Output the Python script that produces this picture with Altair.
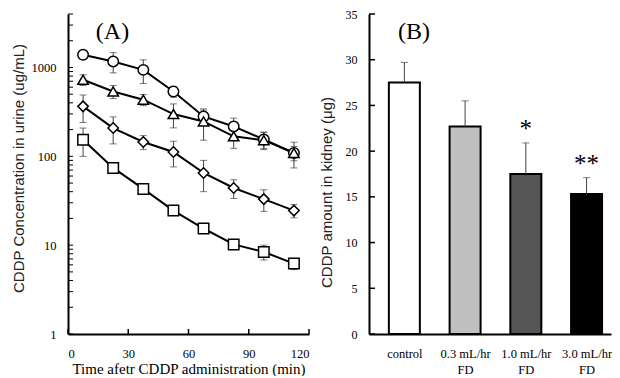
import json
import altair as alt
import pandas as pd

SERIF = "Liberation Serif"
SANS = "Liberation Sans"

# ---------------- Panel A data ----------------
times = [7.5, 22.5, 37.5, 52.5, 67.5, 82.5, 97.5, 112.5]
series_names = ["control", "0.3 mL/hr FD", "1.0 mL/hr FD", "3.0 mL/hr FD"]
conc_control = [1390, 1170, 940, 537, 281, 217, 155, 109]
sd_control = [150, 300, 280, 75, 50, 52, 33, 35]
conc_03 = [727, 537, 434, 299, 247, 168, 152, 109]
sd_03 = [100, 90, 62, 90, 95, 45, 33, 20]
conc_10 = [365, 208, 145, 112, 65, 44, 33, 24.5]
sd_10 = [125, 70, 26, 36, 25, 10.5, 9, 4.2]
conc_30 = [154, 74, 43, 24.5, 15.4, 10.2, 8.4, 6.2]
sd_30 = [54, 3, 2, 2.7, 0.8, 0.5, 1.6, 0.9]
shapes = ["circle", "triangle-up", "diamond", "square"]

x_tick_vals = [0, 30, 60, 90, 120]
y_label_vals = [1, 10, 100, 1000]
y_minor_mult = [1, 2, 3, 4, 5, 6, 7, 8, 9]
y_tick_vals = [m * d for d in [1, 10, 100] for m in y_minor_mult] + [1000, 2000, 3000, 4000]

# ---------------- Panel B data ----------------
groups = ["control", "0.3 mL/hr\nFD", "1.0 mL/hr\nFD", "3.0 mL/hr\nFD"]
kidney = [27.5, 22.7, 17.5, 15.3]
kidney_sd = [2.2, 2.8, 3.4, 1.8]
signif = ["", "", "*", "**"]
bar_colors = ["#ffffff", "#c0c0c0", "#555555", "#000000"]
yb_tick_vals = [0, 5, 10, 15, 20, 25, 30, 35]

rows = []
for name, cs, ss in zip(series_names, [conc_control, conc_03, conc_10, conc_30],
                        [sd_control, sd_03, sd_10, sd_30]):
    for t, c, s in zip(times, cs, ss):
        rows.append({"series": name, "time": t, "conc": c, "lo": c - s, "hi": c + s})
dfA = pd.DataFrame(rows)

dfB = pd.DataFrame({
    "group": groups,
    "pos": [i + 0.5 for i in range(len(groups))],
    "amount": kidney,
    "hi": [a + s for a, s in zip(kidney, kidney_sd)],
    "sig": signif,
})

W_A, H = 241, 320
W_B = 242

# ---------------- Panel A ----------------
xscaleA = alt.Scale(domain=[0, 120], nice=False, zero=False)
yscaleA = alt.Scale(type="log", domain=[1, 4000], nice=False)

xaxisA = alt.Axis(values=x_tick_vals, ticks=False, grid=False, domainColor="black",
                  domainWidth=2, labelFont=SERIF, labelFontSize=12.5, labelColor="black",
                  labelPadding=23, labelBaseline="alphabetic",
                  title="Time afetr CDDP administration (min)", titleFont=SERIF,
                  titleFontSize=15, titleFontWeight="normal", titleColor="black",
                  titleY=39, titleBaseline="alphabetic")
yaxisA = alt.Axis(values=y_label_vals, format="d", ticks=False, grid=False,
                  domainColor="black", domainWidth=2, labelFont=SERIF, labelFontSize=12.5,
                  labelColor="black", labelPadding=12,
                  title="CDDP Concentration in urine (ug/mL)", titleFont=SANS,
                  titleFontSize=15, titleFontWeight="normal", titleColor="#222222",
                  titleX=-50, titleY=154, titleBaseline="middle")

X_A = alt.X("time:Q", scale=xscaleA, axis=xaxisA)
baseA = alt.Chart(dfA)

errA = baseA.mark_rule(color="#444444", strokeWidth=1).encode(
    x=X_A, y=alt.Y("lo:Q", scale=yscaleA, axis=yaxisA), y2="hi:Q")
capLoA = baseA.mark_tick(color="#444444", thickness=1, size=7, orient="horizontal").encode(
    x=X_A, y=alt.Y("lo:Q", scale=yscaleA, axis=yaxisA))
capHiA = baseA.mark_tick(color="#444444", thickness=1, size=7, orient="horizontal").encode(
    x=X_A, y=alt.Y("hi:Q", scale=yscaleA, axis=yaxisA))
lineA = baseA.mark_line(color="black", strokeWidth=2).encode(
    x=X_A, y=alt.Y("conc:Q", scale=yscaleA, axis=yaxisA), detail="series:N")
ptsA = baseA.mark_point(filled=True, fill="white", stroke="black", strokeWidth=1.5,
                        size=110, opacity=1).encode(
    x=X_A, y=alt.Y("conc:Q", scale=yscaleA, axis=yaxisA),
    shape=alt.Shape("series:N", scale=alt.Scale(domain=series_names, range=shapes), legend=None))

yticksA = alt.Chart(pd.DataFrame({"v": y_tick_vals})).mark_rule(color="black", strokeWidth=1).encode(
    y=alt.Y("v:Q", scale=yscaleA, axis=yaxisA), x=alt.value(0), x2=alt.value(5))
xticksA = alt.Chart(pd.DataFrame({"v": x_tick_vals})).mark_rule(color="black", strokeWidth=1.5).encode(
    x=alt.X("v:Q", scale=xscaleA, axis=xaxisA), y=alt.value(H), y2=alt.value(H - 5))
labA = alt.Chart(pd.DataFrame({"t": ["(A)"]})).mark_text(
    font=SERIF, fontSize=24, align="center", baseline="alphabetic", color="black").encode(
    x=alt.value(44.5), y=alt.value(25), text="t:N")

panelA = alt.layer(errA, capLoA, capHiA, lineA, ptsA, yticksA, xticksA, labA).properties(
    width=W_A, height=H)

# ---------------- Panel B ----------------
xscaleB = alt.Scale(domain=[0, 3.82], nice=False, zero=False)
yscaleB = alt.Scale(domain=[0, 35], nice=False)
label_arr = json.dumps([g.split("\n") for g in groups])

xaxisB = alt.Axis(values=[p for p in dfB["pos"]], labelExpr=f"{label_arr}[floor(datum.value)]",
                  ticks=False, grid=False, domainColor="black", domainWidth=2,
                  labelFont=SERIF, labelFontSize=12.5, labelColor="black", labelPadding=23,
                  labelBaseline="alphabetic", labelLineHeight=16, labelOverlap=False, title=None)
yaxisB = alt.Axis(values=yb_tick_vals, ticks=False, grid=False, domainColor="black",
                  domainWidth=2, labelFont=SERIF, labelFontSize=12, labelColor="black",
                  labelPadding=12, title="CDDP amount in kidney (\u03bcg)", titleFont=SANS,
                  titleFontSize=15, titleFontWeight="normal", titleColor="#222222",
                  titleX=-43, titleY=178, titleBaseline="middle")

X_B = alt.X("pos:Q", scale=xscaleB, axis=xaxisB)
baseB = alt.Chart(dfB)

bars = baseB.mark_bar(width=31, stroke="black", strokeWidth=2).encode(
    x=X_B, y=alt.Y("amount:Q", scale=yscaleB, axis=yaxisB),
    fill=alt.Fill("group:N", scale=alt.Scale(domain=groups, range=bar_colors), legend=None))
errB = baseB.mark_rule(color="#444444", strokeWidth=1).encode(
    x=X_B, y=alt.Y("amount:Q", scale=yscaleB, axis=yaxisB), y2="hi:Q")
capB = baseB.mark_tick(color="#444444", thickness=1, size=7, orient="horizontal").encode(
    x=X_B, y=alt.Y("hi:Q", scale=yscaleB, axis=yaxisB))
sigB = baseB.mark_text(font=SERIF, fontSize=25, baseline="alphabetic", align="center",
                       dy=-6, color="black").encode(
    x=X_B, y=alt.Y("hi:Q", scale=yscaleB, axis=yaxisB), text="sig:N")
yticksB = alt.Chart(pd.DataFrame({"v": yb_tick_vals})).mark_rule(color="black", strokeWidth=1.5).encode(
    y=alt.Y("v:Q", scale=yscaleB, axis=yaxisB), x=alt.value(0), x2=alt.value(6))
labB = alt.Chart(pd.DataFrame({"t": ["(B)"]})).mark_text(
    font=SERIF, fontSize=24, align="center", baseline="alphabetic", color="black").encode(
    x=alt.value(45), y=alt.value(25), text="t:N")

panelB = alt.layer(bars, errB, capB, sigB, yticksB, labB).properties(width=W_B, height=H)

chart = alt.hconcat(panelA, panelB, spacing=60, bounds="flush").properties(
    padding={"left": 3, "top": 0, "right": 0, "bottom": 0}
).configure_view(strokeWidth=0)

chart.save("out.html", embed_options={"renderer": "svg", "actions": False})
